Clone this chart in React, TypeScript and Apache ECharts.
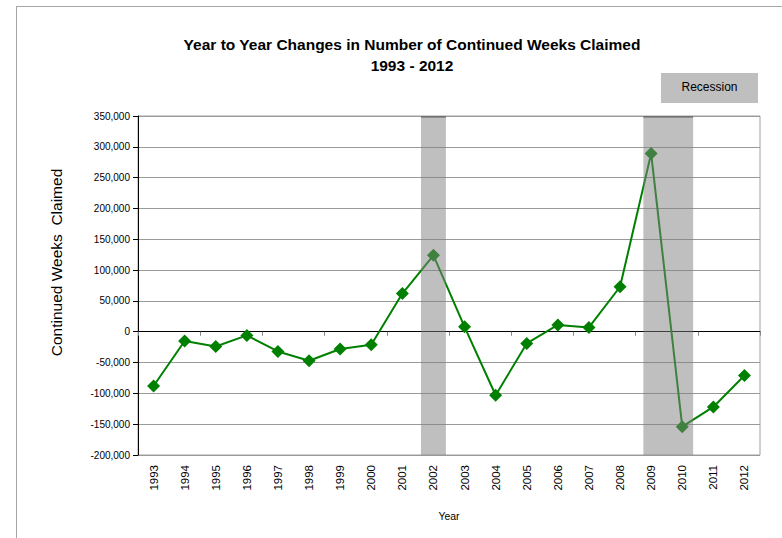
import React, { useEffect, useRef } from "react";
import * as echarts from "echarts";

const years = ["1993","1994","1995","1996","1997","1998","1999","2000","2001","2002","2003","2004","2005","2006","2007","2008","2009","2010","2011","2012"];
const changes = [-88000,-15000,-24000,-6000,-32000,-47000,-28000,-21000,62000,124000,8000,-103000,-19000,11000,7000,73000,289000,-154000,-122000,-71000];
const recessionStart = [2001.6, 2008.75];
const recessionEnd = [2002.4, 2010.35];
const yTicks = { min: -200000, max: 350000, interval: 50000 };

const FONT = "'Liberation Sans', Arial, sans-serif";

export default function App() {
  const ref = useRef<HTMLDivElement>(null);
  useEffect(() => {
    if (!ref.current) return;
    const chart = echarts.init(ref.current, null, { renderer: "svg" });
    const recData = recessionStart.map((s, i) => [s, recessionEnd[i]]);
    chart.setOption({
      animation: false,
      backgroundColor: "#ffffff",
      title: {
        text: "Year to Year Changes in Number of Continued Weeks Claimed\n1993 - 2012",
        left: 407,
        top: 29,
        textAlign: "center",
        textStyle: { fontFamily: FONT, fontSize: 15.5, fontWeight: "bold", color: "#000", lineHeight: 21 },
      },
      grid: { left: 138, top: 116, width: 622, height: 339, show: true, borderColor: "#a0a0a0", borderWidth: 1 },
      xAxis: [
        {
          type: "category",
          data: years,
          position: "bottom",
          boundaryGap: true,
          axisLine: { show: false, onZero: false },
          axisTick: { show: false },
          axisLabel: { rotate: 90, fontFamily: FONT, fontSize: 11.5, color: "#000", margin: 10 },
          name: "Year",
          nameLocation: "middle",
          nameGap: 55,
          nameTextStyle: { fontFamily: FONT, fontSize: 10.5, color: "#000" },
          splitLine: { show: false },
        },
        {
          type: "category",
          data: years,
          position: "bottom",
          boundaryGap: true,
          axisLine: { show: true, onZero: true, lineStyle: { color: "#000", width: 1 } },
          axisTick: { show: true, length: 4, lineStyle: { color: "#888" } },
          axisLabel: { show: false },
          splitLine: { show: false },
        },
        {
          type: "value",
          min: 1992.5,
          max: 2012.5,
          show: false,
        },
      ],
      yAxis: {
        type: "value",
        min: yTicks.min,
        max: yTicks.max,
        interval: yTicks.interval,
        axisLine: { show: true, onZero: false, lineStyle: { color: "#000" } },
        axisTick: { show: true, length: 5, lineStyle: { color: "#000" } },
        axisLabel: {
          fontFamily: FONT,
          fontSize: 10,
          color: "#000",
          margin: 8,
          formatter: (v: number) => v.toLocaleString("en-US"),
        },
        splitLine: { show: true, lineStyle: { color: "#999", width: 1 } },
        name: "Continued Weeks  Claimed",
        nameLocation: "middle",
        nameGap: 74,
        nameTextStyle: { fontFamily: FONT, fontSize: 15.5, color: "#000", padding: [0, 0, 0, 46] },
      },
      series: [
        {
          type: "line",
          xAxisIndex: 0,
          data: changes,
          symbol: "diamond",
          symbolSize: 13,
          itemStyle: { color: "#008000" },
          lineStyle: { color: "#008000", width: 2 },
          z: 2,
        },
        {
          type: "custom",
          xAxisIndex: 2,
          data: recData,
          z: 5,
          renderItem: (params: any, api: any) => {
            const x0 = api.coord([api.value(0), yTicks.max]);
            const x1 = api.coord([api.value(1), yTicks.min]);
            return {
              type: "group",
              children: [
                {
                  type: "rect",
                  shape: { x: x0[0], y: x0[1], width: x1[0] - x0[0], height: x1[1] - x0[1] },
                  style: { fill: "rgba(128,128,128,0.5)" },
                },
                {
                  type: "line",
                  shape: { x1: x0[0], y1: x0[1] + 1, x2: x1[0], y2: x0[1] + 1 },
                  style: { stroke: "rgba(80,80,80,0.45)", lineWidth: 2 },
                },
              ],
            };
          },
        },
      ],
      graphic: [
        { type: "line", shape: { x1: 16.5, y1: 6, x2: 16.5, y2: 538 }, style: { stroke: "#a6a6a6", lineWidth: 1 } },
        { type: "line", shape: { x1: 16, y1: 6.5, x2: 782, y2: 6.5 }, style: { stroke: "#a6a6a6", lineWidth: 1 } },
        {
          type: "group",
          left: 661,
          top: 73,
          children: [
            { type: "rect", shape: { x: 0, y: 0, width: 97, height: 30 }, style: { fill: "#bfbfbf" } },
            {
              type: "text",
              x: 48.5,
              y: 14,
              style: { text: "Recession", fill: "#000", font: `12px ${FONT}`, align: "center", verticalAlign: "middle" },
            },
          ],
        },
      ],
    });
    return () => chart.dispose();
  }, []);
  return <div ref={ref} style={{ position: "fixed", left: 0, top: 0, width: 782, height: 538 }} />;
}
